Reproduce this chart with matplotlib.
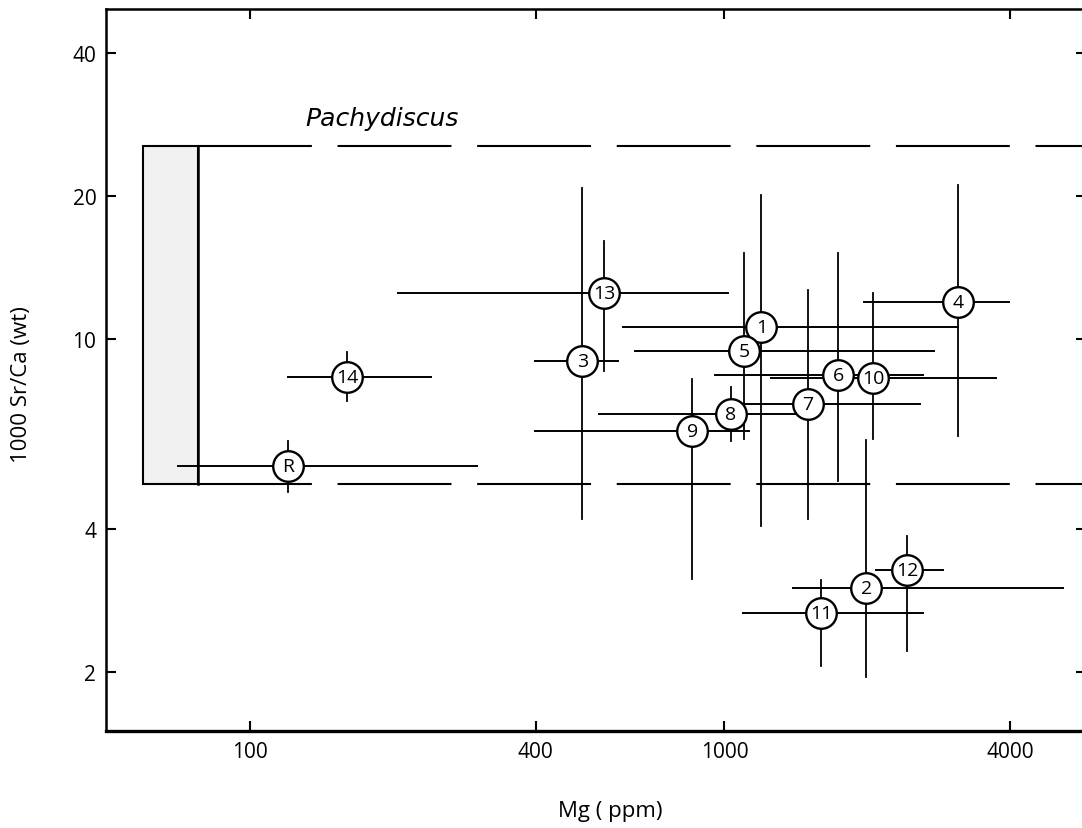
import numpy as np
import matplotlib
matplotlib.use("Agg")
import matplotlib.pyplot as plt
from matplotlib.ticker import FixedLocator, NullLocator, FixedFormatter

plt.rcParams['font.family'] = ['Open Sans', 'DejaVu Sans']
plt.rcParams['lines.scale_dashes'] = False

# sample labels and values (Mg ppm, 1000 Sr/Ca), with ranges
labels = ['1', '2', '3', '4', '5', '6', '7', '8', '9', '10', '11', '12', '13', '14', 'R']
mg     = [1197, 1993, 501, 3116, 1102, 1740, 1497, 1030, 856, 2062, 1602, 2433, 558, 160, 120]
mg_lo  = [612, 1398, 399, 1974, 649, 957, 1091, 545, 399, 1256, 1097, 2083, 205, 120, 70.2]
mg_hi  = [3116, 5166, 597, 3975, 2761, 2629, 2591, 1412, 1129, 3748, 2629, 2897, 1015, 240, 301]
srca   = [10.6, 3.00, 8.99, 11.96, 9.44, 8.40, 7.30, 6.96, 6.41, 8.28, 2.66, 3.27, 12.5, 8.32, 5.41]
sr_lo  = [4.05, 1.95, 4.19, 6.26, 6.17, 5.03, 4.19, 6.11, 3.13, 6.17, 2.06, 2.21, 8.57, 7.41, 4.77]
sr_hi  = [20.1, 6.14, 20.8, 21.1, 15.2, 15.2, 12.7, 7.93, 8.24, 12.5, 3.12, 3.86, 16.1, 9.39, 6.11]

# Pachydiscus field
pachy_mg = [59.5, 77.6]
pachy_sr = [4.96, 25.4]

xticks = [100, 400, 1000, 4000]
yticks = [2, 4, 10, 20, 40]

fig = plt.figure(figsize=(10.82, 8.29), dpi=100)
ax = fig.add_axes([106/1082, 1 - 732/829, (1086 - 106)/1082, (732 - 10)/829])
ax.set_xscale('log')
ax.set_yscale('log')
ax.set_xlim(49.6, 5790)
ax.set_ylim(1.502, 49.4)

# shaded field box
x0, x1 = pachy_mg
y0, y1 = pachy_sr
ax.fill([x0, x1, x1, x0], [y0, y0, y1, y1], facecolor='#f1f1f1', edgecolor='black', lw=1.5, zorder=1)
ax.plot([x1, x1], [y0, y1], color='black', lw=1.8, zorder=2)
for yy in pachy_sr:
    ax.plot([x1, 5790], [yy, yy], color='black', lw=1.5, dashes=(82, 18.5), zorder=2)
ax.text(190, 29.2, 'Pachydiscus', family='DejaVu Sans', style='italic', fontsize=18,
        ha='center', va='center')

# error bars
mg_a = np.array(mg)
sr_a = np.array(srca)
for i in range(len(labels)):
    ax.plot([mg_lo[i], mg_hi[i]], [srca[i], srca[i]], color='black', lw=1.4, zorder=3)
    ax.plot([mg[i], mg[i]], [sr_lo[i], sr_hi[i]], color='black', lw=1.3, zorder=3)

ax.plot(mg_a, sr_a, 'o', ms=22, mfc='white', mec='black', mew=1.7, zorder=4)
for lab, xv, yv in zip(labels, mg, srca):
    ax.text(xv, yv, lab, ha='center', va='center', fontsize=14, zorder=5)

# axes styling
ax.xaxis.set_major_locator(FixedLocator(xticks))
ax.xaxis.set_minor_locator(NullLocator())
ax.xaxis.set_major_formatter(FixedFormatter([str(t) for t in xticks]))
ax.yaxis.set_major_locator(FixedLocator(yticks))
ax.yaxis.set_minor_locator(NullLocator())
ax.yaxis.set_major_formatter(FixedFormatter([str(t) for t in yticks]))
ax.tick_params(which='major', direction='in', length=7, width=1.5, top=True, right=True,
               labelsize=15, pad=7)
for sp in ax.spines.values():
    sp.set_linewidth(1.8)
ax.spines['bottom'].set_linewidth(2.4)

fig.text(610/1082, 1 - 812/829, 'Mg ( ppm)', ha='center', va='center', fontsize=16)
fig.text(22/1082, 1 - 385/829, '1000 Sr/Ca (wt)', ha='center', va='center',
         rotation=90, fontsize=16)

fig.savefig('out.png', dpi=100)
